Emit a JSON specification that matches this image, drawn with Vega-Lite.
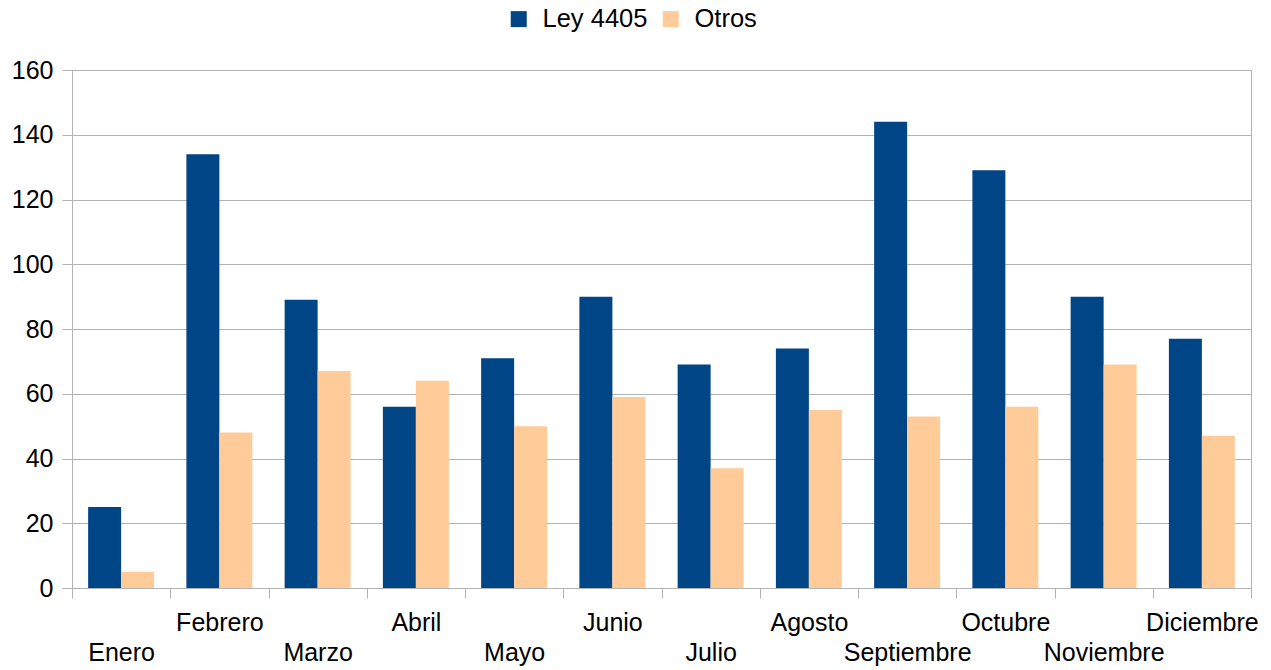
{
  "$schema": "https://vega.github.io/schema/vega-lite/v6.json",
  "autosize": "none",
  "padding": {"left": 72, "top": 70, "right": 20, "bottom": 82},
  "width": 1179,
  "height": 518,
  "background": "white",
  "config": {
    "font": "Liberation Sans",
    "view": {"stroke": "#b3b3b3", "strokeWidth": 1},
    "axis": {
      "labelFont": "Liberation Sans",
      "labelFontSize": 25,
      "labelColor": "#000000",
      "domainColor": "#b3b3b3",
      "tickColor": "#b3b3b3",
      "gridColor": "#b3b3b3",
      "tickSize": 10,
      "title": null
    }
  },
  "data": {
    "values": [
      {"mes": "Enero", "serie": "Ley 4405", "valor": 25},
      {"mes": "Enero", "serie": "Otros", "valor": 5},
      {"mes": "Febrero", "serie": "Ley 4405", "valor": 134},
      {"mes": "Febrero", "serie": "Otros", "valor": 48},
      {"mes": "Marzo", "serie": "Ley 4405", "valor": 89},
      {"mes": "Marzo", "serie": "Otros", "valor": 67},
      {"mes": "Abril", "serie": "Ley 4405", "valor": 56},
      {"mes": "Abril", "serie": "Otros", "valor": 64},
      {"mes": "Mayo", "serie": "Ley 4405", "valor": 71},
      {"mes": "Mayo", "serie": "Otros", "valor": 50},
      {"mes": "Junio", "serie": "Ley 4405", "valor": 90},
      {"mes": "Junio", "serie": "Otros", "valor": 59},
      {"mes": "Julio", "serie": "Ley 4405", "valor": 69},
      {"mes": "Julio", "serie": "Otros", "valor": 37},
      {"mes": "Agosto", "serie": "Ley 4405", "valor": 74},
      {"mes": "Agosto", "serie": "Otros", "valor": 55},
      {"mes": "Septiembre", "serie": "Ley 4405", "valor": 144},
      {"mes": "Septiembre", "serie": "Otros", "valor": 53},
      {"mes": "Octubre", "serie": "Ley 4405", "valor": 129},
      {"mes": "Octubre", "serie": "Otros", "valor": 56},
      {"mes": "Noviembre", "serie": "Ley 4405", "valor": 90},
      {"mes": "Noviembre", "serie": "Otros", "valor": 69},
      {"mes": "Diciembre", "serie": "Ley 4405", "valor": 77},
      {"mes": "Diciembre", "serie": "Otros", "valor": 47}
    ]
  },
  "mark": {"type": "bar"},
  "encoding": {
    "x": {
      "field": "mes",
      "type": "nominal",
      "sort": ["Enero", "Febrero", "Marzo", "Abril", "Mayo", "Junio", "Julio", "Agosto", "Septiembre", "Octubre", "Noviembre", "Diciembre"],
      "scale": {"paddingInner": 0, "paddingOuter": 0},
      "axis": {
        "labelAngle": 0,
        "tickBand": "extent",
        "labelOverlap": false,
        "labelLimit": 0,
        "labelPadding": 12,
        "labelLineHeight": 30,
        "labelBaseline": "top",
        "labelExpr": "indexof(['Enero','Marzo','Mayo','Julio','Septiembre','Noviembre'], datum.value) >= 0 ? ['', datum.label] : datum.label"
      }
    },
    "xOffset": {
      "field": "serie",
      "type": "nominal",
      "sort": ["Ley 4405", "Otros"],
      "scale": {"paddingInner": 0, "paddingOuter": 0.489}
    },
    "y": {
      "field": "valor",
      "type": "quantitative",
      "scale": {"domain": [0, 160], "nice": false},
      "axis": {"values": [0, 20, 40, 60, 80, 100, 120, 140, 160], "labelOverlap": false, "labelPadding": 9, "grid": true}
    },
    "color": {
      "field": "serie",
      "type": "nominal",
      "scale": {"domain": ["Ley 4405", "Otros"], "range": ["#004586", "#ffcc99"]},
      "legend": {
        "title": null,
        "orient": "none",
        "direction": "horizontal",
        "legendX": 434,
        "legendY": -64,
        "padding": 0,
        "symbolType": "square",
        "symbolSize": 256,
        "symbolStrokeWidth": 0,
        "labelFont": "Liberation Sans",
        "labelFontSize": 25.5,
        "labelColor": "#000000",
        "labelOffset": 11,
        "columnPadding": 10
      }
    }
  }
}
